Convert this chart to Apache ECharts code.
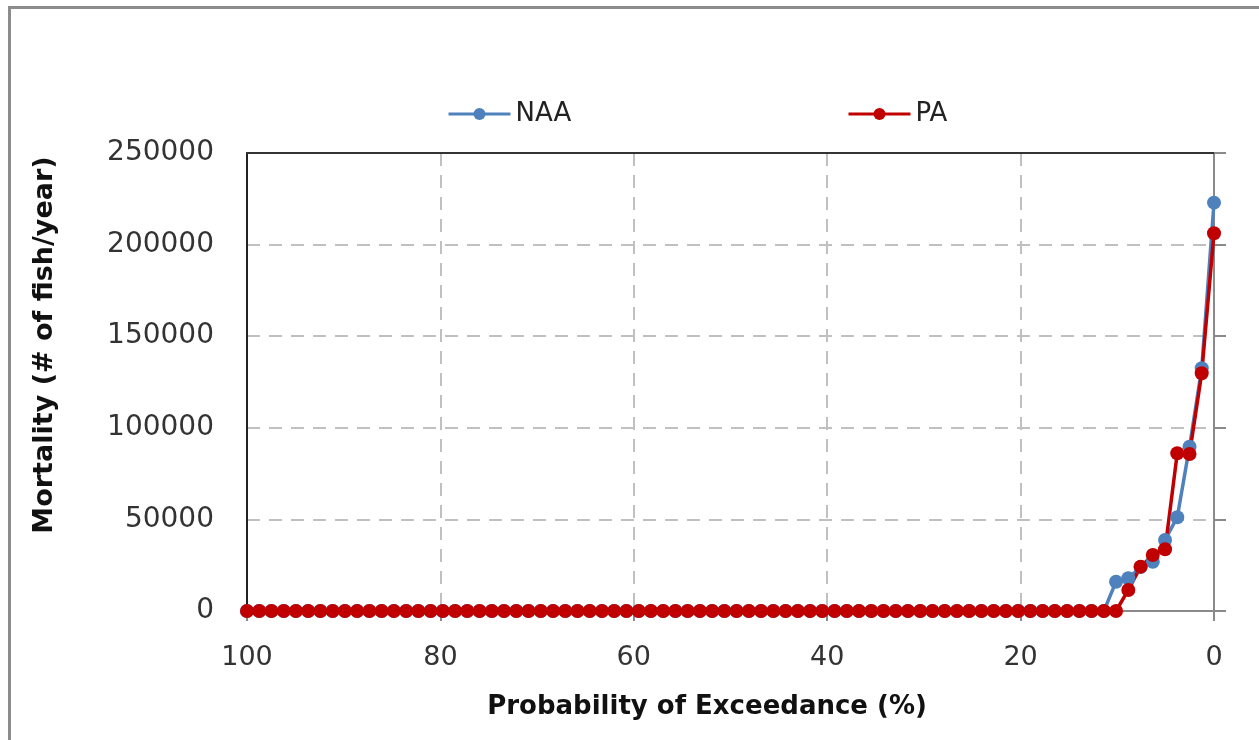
<!DOCTYPE html>
<html lang="en">
<head>
    <meta charset="UTF-8">
    <title>Mortality exceedance</title>
</head>
<body style="margin: 0; background: #fff">
    <div id="main" style="width: 1259px; height: 740px"></div>
    <script src="https://cdn.jsdelivr.net/npm/echarts@6/dist/echarts.min.js"></script>
    <script type="text/javascript">
        // probability of exceedance (%), left to right
        var exceedance = [
            100, 98.73, 97.47, 96.20, 94.94, 93.67, 92.41, 91.14, 89.87, 88.61,
            87.34, 86.08, 84.81, 83.54, 82.28, 81.01, 79.75, 78.48, 77.22, 75.95,
            74.68, 73.42, 72.15, 70.89, 69.62, 68.35, 67.09, 65.82, 64.56, 63.29,
            62.03, 60.76, 59.49, 58.23, 56.96, 55.70, 54.43, 53.16, 51.90, 50.63,
            49.37, 48.10, 46.84, 45.57, 44.30, 43.04, 41.77, 40.51, 39.24, 37.97,
            36.71, 35.44, 34.18, 32.91, 31.65, 30.38, 29.11, 27.85, 26.58, 25.32,
            24.05, 22.78, 21.52, 20.25, 18.99, 17.72, 16.46, 15.19, 13.92, 12.66,
            11.39, 10.13, 8.86, 7.59, 6.33, 5.06, 3.80, 2.53, 1.27, 0
        ];
        var naa = [
            0, 0, 0, 0, 0, 0, 0, 0, 0, 0,
            0, 0, 0, 0, 0, 0, 0, 0, 0, 0,
            0, 0, 0, 0, 0, 0, 0, 0, 0, 0,
            0, 0, 0, 0, 0, 0, 0, 0, 0, 0,
            0, 0, 0, 0, 0, 0, 0, 0, 0, 0,
            0, 0, 0, 0, 0, 0, 0, 0, 0, 0,
            0, 0, 0, 0, 0, 0, 0, 0, 0, 0,
            0, 16000, 17900, 24000, 26900, 38800, 51200, 89700, 132500, 222900
        ];
        var pa = [
            0, 0, 0, 0, 0, 0, 0, 0, 0, 0,
            0, 0, 0, 0, 0, 0, 0, 0, 0, 0,
            0, 0, 0, 0, 0, 0, 0, 0, 0, 0,
            0, 0, 0, 0, 0, 0, 0, 0, 0, 0,
            0, 0, 0, 0, 0, 0, 0, 0, 0, 0,
            0, 0, 0, 0, 0, 0, 0, 0, 0, 0,
            0, 0, 0, 0, 0, 0, 0, 0, 0, 0,
            0, 0, 11500, 24200, 30600, 33700, 86100, 85700, 129800, 206200
        ];
        var xTitle = 'Probability of Exceedance (%)';
        var yTitle = 'Mortality (# of fish/year)';

        function pairs(vals) {
            return vals.map(function (v, i) { return [exceedance[i], v]; });
        }

        var tickFont = 'DejaVu Sans';
        var legendBase = {
            top: 96, itemWidth: 62, itemHeight: 15, itemGap: 10,
            lineStyle: { width: 3 },
            textStyle: { fontFamily: tickFont, fontSize: 26, color: '#222' }
        };
        var myChart = echarts.init(document.getElementById('main'));
        var option = {
            animation: false,
            grid: { left: 247, right: 45, top: 153, bottom: 129 },
            legend: [
                Object.assign({ data: ['NAA'], left: 442 }, legendBase),
                Object.assign({ data: ['PA'], left: 842 }, legendBase)
            ],
            xAxis: [
                {
                    type: 'value', inverse: true, min: 0, max: 100, interval: 20,
                    axisLine: { onZero: false, lineStyle: { color: '#8a8a8a', width: 2 } },
                    axisTick: { show: true, length: 10, lineStyle: { color: '#8a8a8a', width: 2 } },
                    axisLabel: { fontFamily: tickFont, fontSize: 27, color: '#333', margin: 33 },
                    splitLine: { show: true, lineStyle: { color: '#c0c0c0', width: 2, type: [13, 9] } }
                },
                {
                    type: 'value', position: 'top', inverse: true, min: 0, max: 100,
                    axisLine: { show: true, onZero: false, lineStyle: { color: '#333', width: 2 } },
                    axisTick: { show: false }, axisLabel: { show: false }, splitLine: { show: false }
                }
            ],
            yAxis: [
                {
                    type: 'value', min: 0, max: 250000, interval: 50000,
                    axisLine: { show: true, onZero: false, lineStyle: { color: '#222', width: 2 } },
                    axisTick: { show: false },
                    axisLabel: {
                        fontFamily: tickFont, fontSize: 28, color: '#333', margin: 33,
                        formatter: function (v) { return String(v); }
                    },
                    splitLine: { show: true, lineStyle: { color: '#c0c0c0', width: 2, type: [13, 9] } }
                },
                {
                    type: 'value', position: 'right', min: 0, max: 250000, interval: 50000,
                    axisLine: { show: true, onZero: false, lineStyle: { color: '#8a8a8a', width: 2 } },
                    axisTick: { show: true, length: 12, lineStyle: { color: '#8a8a8a', width: 2 } },
                    axisLabel: { show: false }, splitLine: { show: false }
                }
            ],
            graphic: [
                {
                    type: 'rect', left: 7, top: 5, silent: true,
                    shape: { width: 1270, height: 800 },
                    style: { fill: 'none', stroke: '#8c8c8c', lineWidth: 3 }
                },
                {
                    type: 'text', x: 707, y: 707, silent: true,
                    style: {
                        text: xTitle, fontFamily: 'DejaVu Sans', fontWeight: 'bold',
                        fontSize: 26, fill: '#111', align: 'center', verticalAlign: 'middle'
                    }
                },
                {
                    type: 'text', x: 45, y: 345, rotation: Math.PI / 2, silent: true,
                    style: {
                        text: yTitle, fontFamily: 'DejaVu Sans', fontWeight: 'bold',
                        fontSize: 27, fill: '#111', align: 'center', verticalAlign: 'middle'
                    }
                }
            ],
            series: [
                {
                    name: 'NAA', type: 'line', data: pairs(naa),
                    symbol: 'circle', symbolSize: 14,
                    itemStyle: { color: '#4f81bd' },
                    lineStyle: { color: '#4f81bd', width: 3.5 }
                },
                {
                    name: 'PA', type: 'line', data: pairs(pa),
                    symbol: 'circle', symbolSize: 14,
                    itemStyle: { color: '#c00000' },
                    lineStyle: { color: '#c00000', width: 3.5 }
                }
            ]
        };
        myChart.setOption(option);
    </script>
</body>
</html>
